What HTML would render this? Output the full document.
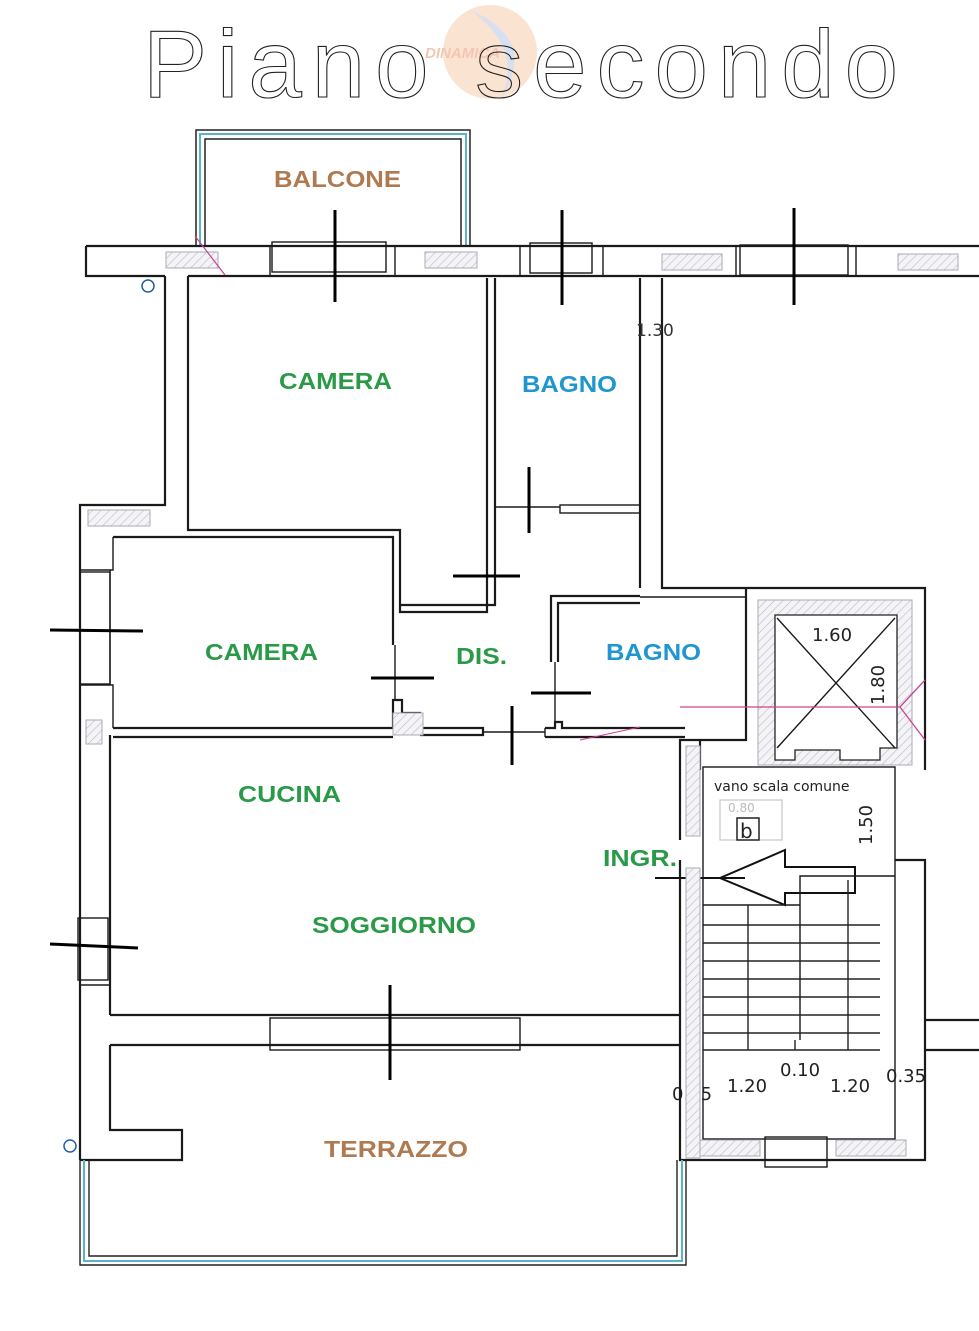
<!DOCTYPE html>
<html><head><meta charset="utf-8"><style>
html,body{margin:0;padding:0;background:#fff;}
svg{display:block;}
.w{fill:none;stroke:#1a1a1a;stroke-width:2.2;}
.t{fill:none;stroke:#1a1a1a;stroke-width:1.4;}
.d{stroke:#000;stroke-width:3;}
.h{fill:url(#hatch);stroke:#aab;stroke-width:1;}
.lbl{font-family:"Liberation Sans",Arial,sans-serif;font-weight:bold;font-size:23px;}
.g{fill:#2a9a48}.b{fill:#1f96d0}.br{fill:#b07a50}
.dim{font-family:"DejaVu Sans","Liberation Sans",sans-serif;font-size:18px;fill:#222;}
</style></head><body>
<svg width="979" height="1331" viewBox="0 0 979 1331" xmlns="http://www.w3.org/2000/svg">
<defs>
<pattern id="hatch" width="6" height="6" patternUnits="userSpaceOnUse" patternTransform="rotate(45)">
<rect width="6" height="6" fill="#f4f4f6"/><line x1="0" y1="0" x2="0" y2="6" stroke="#b8bcc6" stroke-width="1.2"/>
</pattern>
</defs>
<rect width="979" height="1331" fill="#fff"/>

<!-- watermark -->
<circle cx="490" cy="52" r="47" fill="#fbe3d2"/>
<path d="M470 10 Q540 40 500 100 Q525 50 470 10Z" fill="#d8dff0"/>
<text x="425" y="58" font-family="Liberation Sans,sans-serif" font-weight="bold" font-style="italic" font-size="15" fill="#f2c6b0">DINAMICA</text>

<!-- title -->
<text x="143" y="97" font-family="Liberation Sans,sans-serif" font-size="96" fill="none" stroke="#222" stroke-width="1.1" textLength="755" lengthAdjust="spacing">Piano secondo</text>

<!-- balcony -->
<path d="M196 246 V130 H470 V246" fill="none" stroke="#222" stroke-width="1.5"/>
<path d="M200 246 V134 H466 V246" fill="none" stroke="#5ab4c8" stroke-width="2"/>
<path d="M205 246 V139 H461 V246" fill="none" stroke="#222" stroke-width="1.5"/>

<!-- top wall -->
<path class="w" d="M86 246 H979 M86 246 V276 H165 M188 276 H979"/>
<rect class="t" x="272" y="242" width="114" height="30"/>
<rect class="t" x="530" y="243" width="62" height="30"/>
<rect class="t" x="740" y="245" width="108" height="30"/>
<path class="t" d="M270 246 V276 M395 246 V276 M520 246 V276 M603 246 V276 M736 246 V276 M856 246 V276"/>
<rect class="h" x="166" y="252" width="52" height="16"/>
<rect class="h" x="425" y="252" width="52" height="16"/>
<rect class="h" x="662" y="254" width="60" height="16"/>
<rect class="h" x="898" y="254" width="60" height="16"/>
<line x1="195" y1="236" x2="225" y2="275" stroke="#d04090" stroke-width="1.2"/>
<circle cx="148" cy="286" r="6" fill="none" stroke="#2060a0" stroke-width="1.5"/>

<!-- left walls -->
<path class="w" d="M165 276 V505 H80 V1160 M188 276 V530 H400 V612 H487 V545 M495 278 V605 H400 M487 278 V545"/>
<rect class="h" x="88" y="510" width="62" height="16"/>
<path class="w" d="M113 537 H393 V645 M110 735 V1015"/>
<path class="t" d="M113 537 V570 H80 M80 685 H113 V728 M110 570 V685"/>
<rect class="t" x="80" y="572" width="30" height="112"/>
<rect class="h" x="86" y="720" width="16" height="24"/>
<rect class="t" x="78" y="918" width="30" height="62"/>
<path class="t" d="M110 918 V985 M80 905 V918 M80 985 H110"/>

<!-- camera2 / cucina wall -->
<path class="w" d="M113 728 H393 V700 H402 V713 H420 V728 H483 V735 H420 M113 737 H393"/>
<rect class="h" x="393" y="713" width="30" height="22"/>
<path class="t" d="M395 645 V700 M483 732 H545 M545 728 V737"/>
<path class="w" d="M545 728 H555 V722 H562 V728 H685 M545 737 H685"/>

<!-- bagno1 -->
<path class="w" d="M640 278 V588 M662 278 V588 H925 V770"/>
<path class="t" d="M495 507 H560"/>
<rect class="t" x="560" y="505" width="80" height="8"/>
<path class="w" d="M551 662 V596 H640 M558 662 V603 H640"/>
<path class="t" d="M555 662 V725 M640 597 H746"/>
<path class="w" d="M746 588 V740 H680 V840 M700 740 V770"/>
<rect class="h" x="686" y="746" width="14" height="90"/>

<!-- elevator -->
<rect class="h" x="758" y="600" width="154" height="165"/>
<path d="M775 615 H897 V748 H880 V760 H840 V750 H795 V760 H775 Z" fill="#fff" stroke="#222" stroke-width="1.3"/>
<path class="t" d="M777 618 L895 748 M895 618 L777 748"/>
<text class="dim" x="812" y="641">1.60</text>
<text class="dim" transform="translate(884,705) rotate(-90)">1.80</text>
<path d="M680 707 H900 L925 680 M900 707 L925 740" fill="none" stroke="#d04090" stroke-width="1.3"/>
<path d="M580 740 L640 727" stroke="#d04090" stroke-width="1"/>

<!-- stair -->
<rect class="t" x="703" y="767" width="192" height="372" stroke-width="2"/>
<text x="714" y="791" font-family="DejaVu Sans,sans-serif" font-size="14" fill="#222">vano scala comune</text>
<rect x="720" y="800" width="62" height="40" fill="none" stroke="#bbb" stroke-width="1"/>
<text x="728" y="812" font-family="DejaVu Sans,sans-serif" font-size="12" fill="#bbb">0.80</text>
<rect x="737" y="818" width="22" height="22" fill="none" stroke="#222" stroke-width="1.5"/>
<text x="740" y="838" font-family="DejaVu Sans,sans-serif" font-size="20" fill="#222">b</text>
<text class="dim" transform="translate(872,845) rotate(-90)">1.50</text>
<path d="M655 878 H745 M720 878 L785 850 V867 H855 V893 H785 V905 Z" fill="none" stroke="#111" stroke-width="2"/>
<path class="t" d="M703 905 H800 V876 H895 M800 880 V1040"/>
<g stroke="#222" stroke-width="1.4">
<line x1="703" y1="925" x2="880" y2="925"/><line x1="703" y1="943" x2="880" y2="943"/>
<line x1="703" y1="961" x2="880" y2="961"/><line x1="703" y1="979" x2="880" y2="979"/>
<line x1="703" y1="997" x2="880" y2="997"/><line x1="703" y1="1015" x2="880" y2="1015"/>
<line x1="703" y1="1033" x2="880" y2="1033"/><line x1="703" y1="1050" x2="880" y2="1050"/>
<line x1="748" y1="905" x2="748" y2="1050"/><line x1="848" y1="880" x2="848" y2="1050"/>
<line x1="795" y1="1050" x2="795" y2="1040"/>
</g>
<text class="dim" x="780" y="1076">0.10</text>
<text class="dim" x="727" y="1092">1.20</text>
<text class="dim" x="830" y="1092">1.20</text>
<text class="dim" x="886" y="1082">0.35</text>
<text class="dim" x="672" y="1100">0.35</text>
<path class="w" d="M680 860 V1160 H925 V860 H895"/>
<rect class="h" x="686" y="868" width="14" height="290"/>
<rect class="h" x="700" y="1140" width="60" height="16"/>
<rect class="h" x="836" y="1140" width="70" height="16"/>
<rect class="t" x="765" y="1137" width="62" height="30"/>
<path class="w" d="M925 1020 H979 M925 1050 H979"/>

<!-- soggiorno bottom wall -->
<path class="w" d="M110 1015 H680 M110 1045 H680 M80 1160 H182 V1130 H110 V1045"/>
<rect class="t" x="270" y="1018" width="250" height="32"/>
<circle cx="70" cy="1146" r="6" fill="none" stroke="#2060a0" stroke-width="1.5"/>

<!-- terrazzo border -->
<path d="M80 1160 V1265 H686 V1160" fill="none" stroke="#222" stroke-width="1.4"/>
<path d="M84 1160 V1261 H682 V1160" fill="none" stroke="#5ab4c8" stroke-width="2"/>
<path d="M89 1160 V1256 H677 V1160" fill="none" stroke="#222" stroke-width="1.4"/>

<!-- door marks -->
<g class="d">
<line x1="335" y1="210" x2="335" y2="302"/>
<line x1="562" y1="210" x2="562" y2="305"/>
<line x1="794" y1="208" x2="794" y2="305"/>
<line x1="529" y1="467" x2="529" y2="533"/>
<line x1="453" y1="576" x2="520" y2="576"/>
<line x1="50" y1="630" x2="143" y2="631"/>
<line x1="371" y1="678" x2="434" y2="678"/>
<line x1="531" y1="693" x2="591" y2="693"/>
<line x1="512" y1="706" x2="512" y2="765"/>
<line x1="50" y1="944" x2="138" y2="948"/>
<line x1="390" y1="985" x2="390" y2="1080"/>
</g>

<!-- labels -->
<text class="lbl br" x="274" y="187" textLength="127" lengthAdjust="spacingAndGlyphs">BALCONE</text>
<text class="lbl g" x="279" y="389" textLength="113" lengthAdjust="spacingAndGlyphs">CAMERA</text>
<text class="lbl b" x="522" y="392" textLength="95" lengthAdjust="spacingAndGlyphs">BAGNO</text>
<text class="lbl g" x="205" y="660" textLength="113" lengthAdjust="spacingAndGlyphs">CAMERA</text>
<text class="lbl g" x="456" y="664" textLength="51" lengthAdjust="spacingAndGlyphs">DIS.</text>
<text class="lbl b" x="606" y="660" textLength="95" lengthAdjust="spacingAndGlyphs">BAGNO</text>
<text class="lbl g" x="238" y="802" textLength="103" lengthAdjust="spacingAndGlyphs">CUCINA</text>
<text class="lbl g" x="603" y="866" textLength="74" lengthAdjust="spacingAndGlyphs">INGR.</text>
<text class="lbl g" x="312" y="933" textLength="164" lengthAdjust="spacingAndGlyphs">SOGGIORNO</text>
<text class="lbl br" x="324" y="1157" textLength="144" lengthAdjust="spacingAndGlyphs">TERRAZZO</text>
<text x="636" y="336" font-family="DejaVu Sans,sans-serif" font-size="17" fill="#333">1.30</text>
</svg>
</body></html>
